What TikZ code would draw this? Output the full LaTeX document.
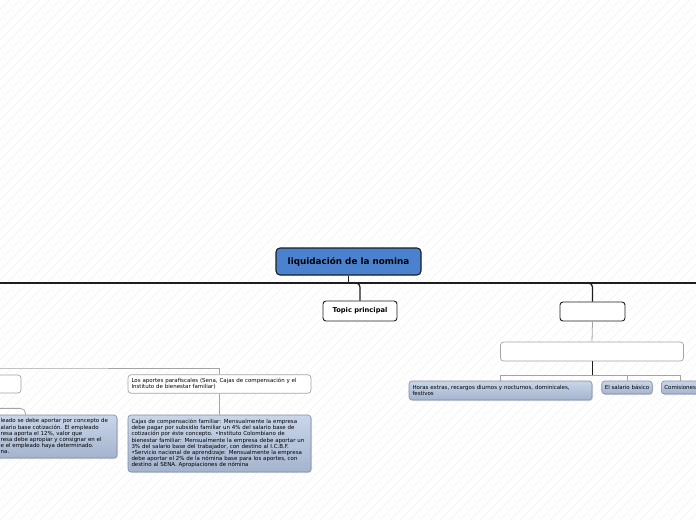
\documentclass[tikz,border=0pt]{standalone}
\usepackage{fontspec}
\setmainfont{DejaVu Sans}
\usetikzlibrary{positioning, shadows}
\definecolor{mapRoot}{HTML}{4A82D0}
\definecolor{mapLine}{HTML}{1E1E1E}
\definecolor{mapGray}{HTML}{A3A3A3}
\definecolor{mapNoteTop}{HTML}{C9D6EA}
\definecolor{mapNoteBot}{HTML}{A4B4CD}
\definecolor{mapNoteLine}{HTML}{7F8EA8}
\definecolor{mapHatch}{HTML}{F0F0F0}
\tikzset{
  mapfig/.style={
    x=1pt, y=-1pt,
    every node/.append style={font=\fontsize{5.5}{6.2}\selectfont},
  },
  topicnode/.style={
    draw=mapLine, line width=0.9pt, fill=white, rounded corners=3pt,
    inner sep=0pt, minimum height=19pt, font=\fontsize{6.7}{8}\selectfont\bfseries,
  },
  rootnode/.style={topicnode, fill=mapRoot, line width=1.1pt, rounded corners=4pt,
    font=\fontsize{8.8}{10}\selectfont\bfseries},
  subnode/.style={
    draw=mapGray, line width=0.7pt, fill=white, rounded corners=3pt,
    inner sep=3.5pt, align=left, text width=176pt, minimum height=18pt,
  },
  % Notizen: blau verlaufend mit leichtem Schatten.
  notenode/.style={
    draw=mapNoteLine, line width=0.6pt, rounded corners=3pt,
    top color=mapNoteTop, bottom color=mapNoteBot,
    drop shadow={opacity=0.25, shadow xshift=1pt, shadow yshift=-1pt},
    inner sep=3.5pt, align=left,
  },
  mainline/.style={draw=mapLine, line width=1.3pt},
  subline/.style={draw=mapGray, line width=0.8pt},
}

\begin{document}
\begin{tikzpicture}[mapfig]
  \useasboundingbox (0,0) rectangle (696,520);
  \begin{scope}
    \clip (0,0) rectangle (696,520);
    \foreach \k in {-520,-510,...,700}
      \draw[mapHatch, line width=0.6pt] (\k,520) -- ++(520,-520);
  \end{scope}
  \node[rootnode, minimum width=145pt, minimum height=27pt] (root) at (348.5,261.5) {liquidación de la nomina};
  \node[topicnode, minimum width=74pt, minimum height=20pt] (topic) at (360,311) {Topic principal};
  \node[topicnode, minimum width=65pt] (blank) at (592.5,311.5) {};
  \node[subnode, minimum height=19pt] (blankwide) at (592,351.5) {};
  \node[notenode, text width=176pt, minimum height=19pt] (horas) at (500.5,390.5)
    {Horas extras, recargos diurnos y nocturnos, dominicales,\\festivos};
  \node[notenode, inner sep=3pt, minimum height=13pt] (salario) at (627,387.5) {El salario básico};
  \node[notenode, inner sep=3pt, minimum height=13pt, anchor=west] (comis) at (661,387.5) {Comisiones};
  \node[subnode] (aportes) at (219.5,384)
    {Los aportes parafiscales (Sena, Cajas de compensación y el\\Instituto de bienestar familiar)};
  \node[notenode, text width=176pt, minimum height=57pt] (cajas) at (219.5,443.5)
    {Cajas de compensación familiar: Mensualmente la empresa\\
     debe pagar por subsidio familiar un 4\% del salario base de\\
     cotización por éste concepto. •Instituto Colombiano de\\
     bienestar familiar: Mensualmente la empresa debe aportar un\\
     3\% del salario base del trabajador, con destino al I.C.B.F.\\
     •Servicio nacional de aprendizaje: Mensualmente la empresa\\
     debe aportar el 2\% de la nómina base para los aportes, con\\
     destino al SENA. Apropiaciones de nómina};
  \node[subnode] (leftsub) at (-70.5,384) {};
  \node[notenode, text width=176pt, minimum height=43pt] (pension) at (25.5,436.5) {};
  \node[anchor=north west, align=left, inner sep=0pt] (pensiontext) at (0.5,418.5)
    {leado se debe aportar por concepto de\\
     alario base cotización. El empleado\\
     resa aporta el 12\%, valor que\\
     resa debe apropiar y consignar en el\\
     e el empleado haya determinado.\\
     na.};

  \coordinate (spineW) at (0,283);
  \coordinate (spineE) at (696,283);
  \coordinate (busL) at (0,368);
  \draw[mainline] (spineW) -- (spineE);
  \draw[mainline] (root.south) -- (root.south |- spineW);
  \draw[mainline, rounded corners=4pt] (spineW) -| (topic.north);
  \draw[mainline, rounded corners=4pt] (spineW) -| (blank.north);
  \draw[subline] (blank.south) -- (blankwide.north);
  \draw[mainline, line width=1pt] (blankwide.south) -- ++(0,14) coordinate (busR);
  \draw[subline] (horas.north) |- (busR) -| (comis.north);
  \draw[subline] (salario.north) -- (salario.north |- busR);
  \draw[subline] (leftsub.north) |- (busL) -| (aportes.north);
  \draw[subline] (aportes.south) -- (cajas.north);
  \draw[subline, rounded corners=5pt] (leftsub.south) -- ++(0,15) -| (pension.north);
\end{tikzpicture}
\end{document}
